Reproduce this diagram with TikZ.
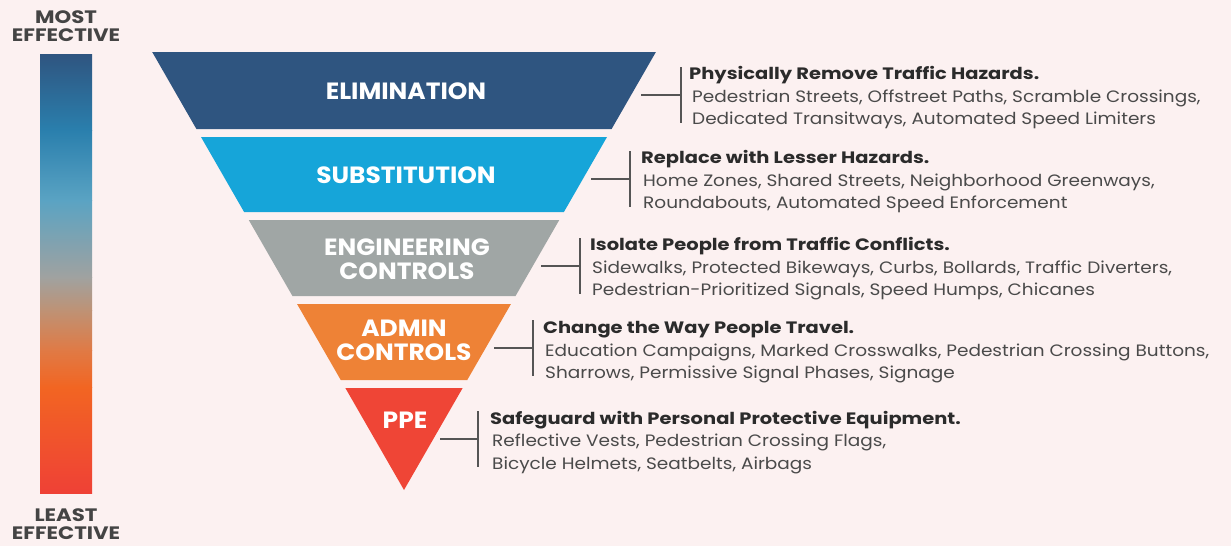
\documentclass[tikz,border=0pt]{standalone}
\usepackage{fontspec}
\setmainfont{Poppins}
\newfontfamily\bodyfont[FakeStretch=1.12]{Poppins}
\newfontfamily\headfont[FakeStretch=1.18]{Poppins}
\newfontfamily\labelfont[FakeStretch=1.06]{Poppins}
\newfontfamily\sidefont[FakeStretch=1.18]{Poppins}
\definecolor{bg}{HTML}{FCF1F1}
\definecolor{elim}{HTML}{2F5580}
\definecolor{subst}{HTML}{16A5D9}
\definecolor{eng}{HTML}{A0A6A5}
\definecolor{admin}{HTML}{EE8236}
\definecolor{ppe}{HTML}{EF4536}
\definecolor{gA}{HTML}{2F5580}
\definecolor{gB}{HTML}{2A7FAD}
\definecolor{gC}{HTML}{5AA3C3}
\definecolor{gD}{HTML}{A0A2A0}
\definecolor{gE}{HTML}{BE9275}
\definecolor{gF}{HTML}{E07A45}
\definecolor{gG}{HTML}{F26522}
\definecolor{gH}{HTML}{EF4136}
\definecolor{headtxt}{HTML}{2B2B2B}
\definecolor{bodytxt}{HTML}{4A4A4A}
\definecolor{sidetxt}{HTML}{444444}
\definecolor{brk}{HTML}{555555}
\begin{document}
\begin{tikzpicture}[x=1pt,y=-1pt,
  bandlabel/.style={text=white,font=\labelfont\fontsize{23.5}{25}\selectfont\bfseries,align=center,inner sep=0pt},
  head/.style={anchor=base west,inner sep=0pt,text=headtxt,font=\headfont\fontsize{16.5}{19}\selectfont\bfseries},
  body/.style={anchor=base west,inner sep=0pt,text=bodytxt,font=\bodyfont\fontsize{16.5}{19}\selectfont},
  side/.style={text=sidetxt,font=\sidefont\fontsize{18}{18}\selectfont\bfseries,align=center,inner sep=0pt},
  bracket/.style={draw=brk,line width=1.2pt}]
\useasboundingbox[fill=bg] (0,0) rectangle (1231,546);

% gradient bar
\shade[top color=gA,bottom color=gB] (40,54) rectangle (92,130.5);
\shade[top color=gB,bottom color=gC] (40,130) rectangle (92,200.5);
\shade[top color=gC,bottom color=gD] (40,200) rectangle (92,277.5);
\shade[top color=gD,bottom color=gE] (40,277) rectangle (92,310.5);
\shade[top color=gE,bottom color=gF] (40,310) rectangle (92,350.5);
\shade[top color=gF,bottom color=gG] (40,350) rectangle (92,387.5);
\shade[top color=gG,bottom color=gH] (40,387) rectangle (92,493);

\node[side] (most) at (66,26) {MOST\\EFFECTIVE};
\node[side] (least) at (66,524.5) {LEAST\\EFFECTIVE};

% bands
\fill[elim]  (152.2,52) -- (655.9,52) -- (611.6,129) -- (196.4,129) -- cycle;
\fill[subst] (201,137) -- (607,137) -- (563.9,212) -- (244.1,212) -- cycle;
\fill[eng]   (248.75,220) -- (559.25,220) -- (515.55,296) -- (292.45,296) -- cycle;
\fill[admin] (297.05,304) -- (510.95,304) -- (467.25,380) -- (340.75,380) -- cycle;
\fill[ppe]   (345.35,388) -- (462.65,388) -- (404,490) -- cycle;

\node[bandlabel] (l1) at (406,91) {ELIMINATION};
\node[bandlabel] (l2) at (406,175) {SUBSTITUTION};
\node[bandlabel] (l3) at (407,259.5) {ENGINEERING\\[-1pt]CONTROLS};
\node[bandlabel] (l4) at (404,340) {ADMIN\\[-1pt]CONTROLS};
\node[bandlabel] (l5) at (405,420) {PPE};

% brackets
\foreach \i/\xa/\xb/\yy in {1/641/681/95, 2/591/630/179, 3/541/580/266, 4/494/533/348, 5/440/478/439}{
  \coordinate (s\i) at (\xa,\yy);
  \coordinate (m\i) at (\xb,\yy);
  \coordinate (t\i) at (\xb,\yy-28);
  \coordinate (b\i) at (\xb,\yy+28);
  \draw[bracket] (s\i) -- (m\i);
  \draw[bracket] (t\i) -- (b\i);
}

% texts
\node[head] (h1) at (689,79) {Physically Remove Traffic Hazards.};
\node[body] (a1) at (692,102) {Pedestrian Streets, Offstreet Paths, Scramble Crossings,};
\node[body] (c1) at (692,124) {Dedicated Transitways, Automated Speed Limiters};

\node[head] (h2) at (641,163) {Replace with Lesser Hazards.};
\node[body] (a2) at (643,186) {Home Zones, Shared Streets, Neighborhood Greenways,};
\node[body] (c2) at (643,208) {Roundabouts, Automated Speed Enforcement};

\node[head] (h3) at (590,250) {Isolate People from Traffic Conflicts.};
\node[body] (a3) at (592,273) {Sidewalks, Protected Bikeways, Curbs, Bollards, Traffic Diverters,};
\node[body] (c3) at (592,295) {Pedestrian-Prioritized Signals, Speed Humps, Chicanes};

\node[head] (h4) at (543,333) {Change the Way People Travel.};
\node[body] (a4) at (545,356) {Education Campaigns, Marked Crosswalks, Pedestrian Crossing Buttons,};
\node[body] (c4) at (545,378) {Sharrows, Permissive Signal Phases, Signage};

\node[head] (h5) at (490,424) {Safeguard with Personal Protective Equipment.};
\node[body] (a5) at (492,446) {Reflective Vests, Pedestrian Crossing Flags,};
\node[body] (c5) at (492,469) {Bicycle Helmets, Seatbelts, Airbags};
\end{tikzpicture}
\end{document}
